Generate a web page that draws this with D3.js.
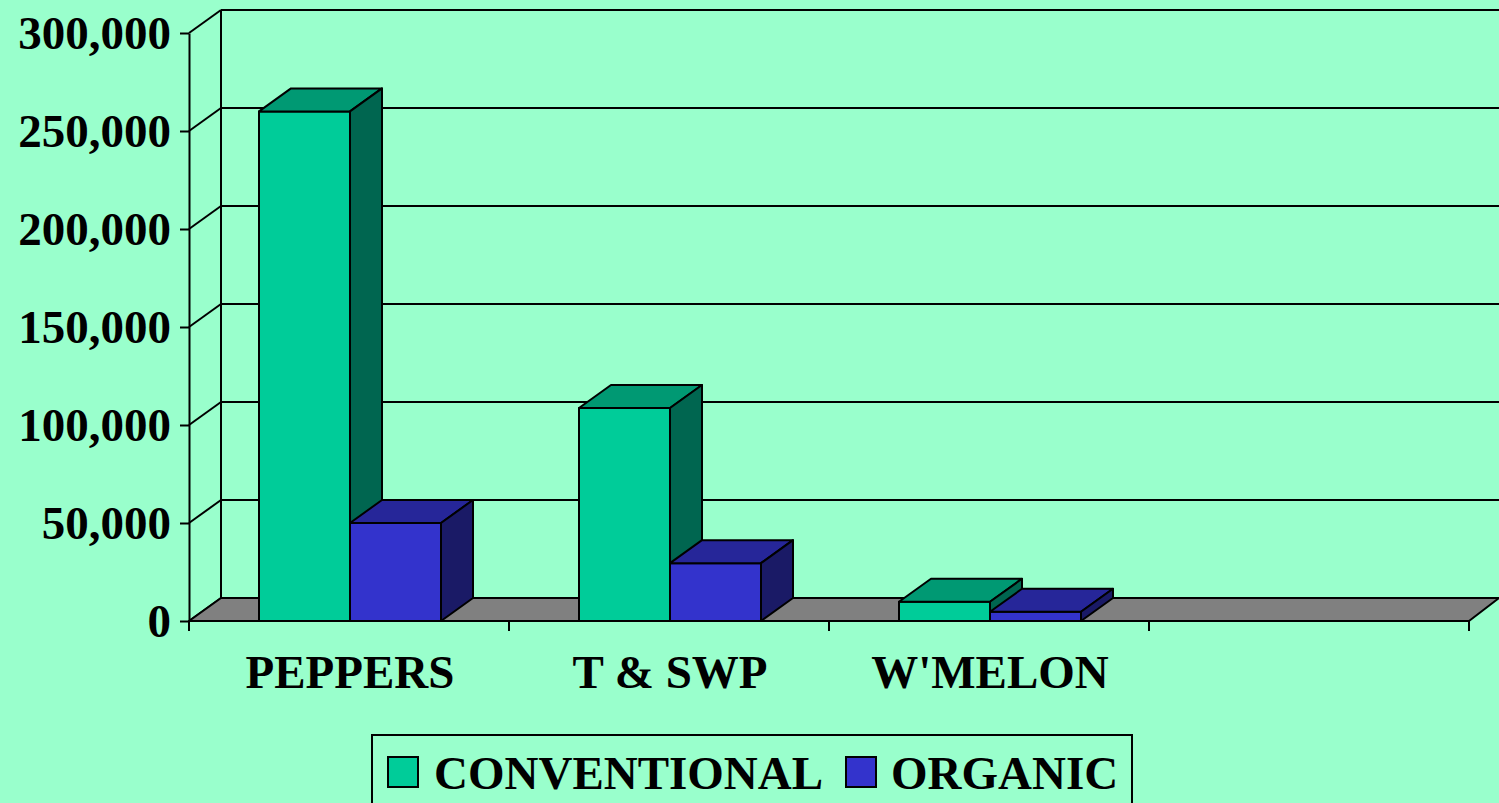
<!doctype html>
<html lang="en">
<head>
  <meta charset="utf-8">
  <style>
    body { margin: 0; background: #99ffcc; }
    svg { display: block; }
  </style>
</head>
<body>
  <script src="https://d3js.org/d3.v7.min.js"></script>
  <div id="chart"></div>
  <script>
  // chart data
  var categories = ["PEPPERS", "T & SWP", "W'MELON", ""];
  var seriesNames = ["CONVENTIONAL", "ORGANIC"];
  var conventional = [260000, 108700, 9800, null];
  var organic = [50000, 29500, 4700, null];
  var yTicks = [0, 50000, 100000, 150000, 200000, 250000, 300000];

  var width = 1499, height = 803;
  var depth = {dx: 32, dy: -23};
  var serif = "'Liberation Serif', 'Times New Roman', serif";

  var colors = {
    CONVENTIONAL: {front: "#00cc99", top: "#009973", side: "#006650"},
    ORGANIC: {front: "#3333cc", top: "#262699", side: "#1a1a66"}
  };

  var svg = d3.select("#chart")
      .append("svg")
      .attr("width", width)
      .attr("height", height);

  // scales
  var x = d3.scaleBand()
      .domain(categories)
      .range([189, 1469])
      .padding(0);

  var xs = d3.scaleBand()
      .domain(seriesNames)
      .range([70, 252])
      .padding(0);

  var y = d3.scaleLinear()
      .domain([0, 300000])
      .range([621, 33]);

  // back wall gridlines + diagonals on side wall
  var grid = svg.append("g").attr("stroke", "#000").attr("stroke-width", 2).attr("fill", "none");
  yTicks.forEach(function (t) {
    grid.append("line")
        .attr("x1", x.range()[0]).attr("y1", y(t))
        .attr("x2", x.range()[0] + depth.dx).attr("y2", y(t) + depth.dy);
    grid.append("line")
        .attr("x1", x.range()[0] + depth.dx).attr("y1", y(t) + depth.dy)
        .attr("x2", width + 5).attr("y2", y(t) + depth.dy);
  });
  grid.append("line")
      .attr("x1", x.range()[0] + depth.dx).attr("y1", y(0) + depth.dy)
      .attr("x2", x.range()[0] + depth.dx).attr("y2", y(300000) + depth.dy);

  // floor
  var x0 = x.range()[0], x1 = x.range()[1];
  svg.append("polygon")
      .attr("points", [
        [x0, y(0)], [x1, y(0)],
        [x1 + depth.dx - 2, y(0) + depth.dy], [x0 + depth.dx, y(0) + depth.dy]
      ].join(" "))
      .attr("fill", "#808080")
      .attr("stroke", "#000")
      .attr("stroke-width", 2)
      .attr("stroke-linejoin", "round");

  // y axis
  var yAxis = svg.append("g")
      .attr("transform", "translate(" + x0 + ",0)")
      .call(d3.axisLeft(y)
        .tickValues(yTicks)
        .tickSize(9)
        .tickSizeOuter(0)
        .tickPadding(9)
        .tickFormat(d3.format(",")));
  yAxis.attr("font-family", serif);
  yAxis.select(".domain").attr("stroke", "#000").attr("stroke-width", 2);
  yAxis.selectAll(".tick line").attr("stroke", "#000").attr("stroke-width", 2);
  yAxis.selectAll(".tick text")
      .attr("font-family", serif)
      .attr("font-weight", "bold")
      .attr("font-size", 47)
      .attr("dy", "0.33em")
      .attr("fill", "#000");

  // bars
  function bar(g, bx, bw, value, c) {
    var yt = y(value), yb = y(0);
    g.append("polygon")
        .attr("points", [[bx, yt], [bx + bw, yt], [bx + bw, yb], [bx, yb]].join(" "))
        .attr("fill", c.front);
    g.append("polygon")
        .attr("points", [[bx, yt], [bx + depth.dx, yt + depth.dy], [bx + bw + depth.dx, yt + depth.dy], [bx + bw, yt]].join(" "))
        .attr("fill", c.top);
    g.append("polygon")
        .attr("points", [[bx + bw, yt], [bx + bw + depth.dx, yt + depth.dy], [bx + bw + depth.dx, yb + depth.dy], [bx + bw, yb]].join(" "))
        .attr("fill", c.side);
  }

  var bars = svg.append("g")
      .attr("stroke", "#000")
      .attr("stroke-width", 2)
      .attr("stroke-linejoin", "round");
  var seriesData = {CONVENTIONAL: conventional, ORGANIC: organic};
  categories.forEach(function (cat, i) {
    seriesNames.forEach(function (s) {
      var v = seriesData[s][i];
      if (v == null) return;
      bar(bars.append("g"), x(cat) + xs(s), xs.bandwidth(), v, colors[s]);
    });
  });

  // front axis line + category ticks
  svg.append("line")
      .attr("x1", x0).attr("y1", y(0)).attr("x2", x1).attr("y2", y(0))
      .attr("stroke", "#000").attr("stroke-width", 2);
  var bounds = categories.map(function (c) { return x(c); }).concat([x1]);
  svg.selectAll(".ctick")
      .data(bounds)
      .enter()
      .append("line")
      .attr("x1", function (d) { return d; }).attr("x2", function (d) { return d; })
      .attr("y1", y(0)).attr("y2", y(0) + 10)
      .attr("stroke", "#000").attr("stroke-width", 2);

  svg.selectAll(".clabel")
      .data(categories)
      .enter()
      .append("text")
      .attr("x", function (d) { return x(d) + xs.range()[0] + (xs.range()[1] - xs.range()[0]) / 2; })
      .attr("y", 688)
      .attr("text-anchor", "middle")
      .attr("font-family", serif)
      .attr("font-weight", "bold")
      .attr("font-size", 47)
      .text(function (d) { return d; });

  // legend
  var legend = svg.append("g");
  legend.append("rect")
      .attr("x", 372).attr("y", 735)
      .attr("width", 760).attr("height", 90)
      .attr("fill", "none").attr("stroke", "#000").attr("stroke-width", 2);
  var legendPos = [{sx: 388, tx: 434}, {sx: 846, tx: 891}];
  seriesNames.forEach(function (s, i) {
    legend.append("rect")
        .attr("x", legendPos[i].sx).attr("y", 757)
        .attr("width", 30).attr("height", 30)
        .attr("fill", colors[s].front)
        .attr("stroke", "#000").attr("stroke-width", 2);
    legend.append("text")
        .attr("x", legendPos[i].tx).attr("y", 789)
        .attr("font-family", serif)
        .attr("font-weight", "bold")
        .attr("font-size", 47)
        .text(s);
  });
  </script>
</body>
</html>
